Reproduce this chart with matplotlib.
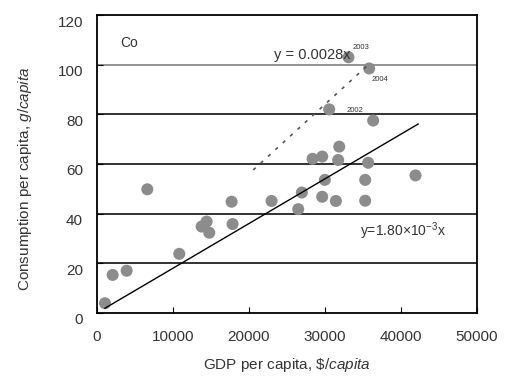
import matplotlib
matplotlib.use("Agg")
import matplotlib.pyplot as plt
import matplotlib.transforms as mtransforms
import numpy as np

plt.rcParams['font.family'] = ['Liberation Sans', 'DejaVu Sans']
plt.rcParams['mathtext.fontset'] = 'custom'
plt.rcParams['mathtext.rm'] = 'Liberation Sans'
plt.rcParams['mathtext.it'] = 'Liberation Sans:italic'

gdp = [1050, 2060, 3900, 6620, 10830, 13770, 14430, 14780, 17720, 17850,
       22980, 26490, 26970, 28380, 29650, 30000, 29650, 31450, 31890, 31750,
       30570, 33110, 35830, 36360, 35700, 35310, 35310, 41930]
cons = [3.9, 15.3, 17.0, 49.8, 23.8, 34.8, 36.8, 32.3, 44.8, 35.8,
        45.1, 41.8, 48.5, 62.1, 63.0, 53.6, 46.8, 45.1, 67.0, 61.6,
        82.0, 103.0, 98.5, 77.5, 60.5, 53.6, 45.2, 55.4]
slope_fit = 1.80e-3
slope_recent = 0.0028
fit_range = [1050, 42280]
recent_range = [20570, 35700]
xticks = [0, 10000, 20000, 30000, 40000, 50000]
yticks = [0, 20, 40, 60, 80, 100, 120]

fig = plt.figure(figsize=(5.16, 3.77), dpi=100)
ax = fig.add_axes([0.188, 0.170, 0.736, 0.790])

for yv in yticks[1:-1]:
    ax.axhline(yv, color="#8a8a8a" if yv == 100 else "#222222", lw=1.3, zorder=1)

ax.scatter(gdp, cons, s=75, color="#8c8c8c", zorder=3, edgecolors="none")

fx = np.array(fit_range)
ax.plot(fx, slope_fit * fx, color="black", lw=1.0, zorder=4)
rx = np.array(recent_range)
ax.plot(rx, slope_recent * rx, color="#555555", lw=1.2, linestyle=(0, (2, 4)), zorder=4)

ax.text(3000, 107, "Co", fontsize=10, color="#333333")
ax.text(23300, 102.5, "y = 0.0028x", fontsize=10.5, color="#333333")
ax.text(32800, 81, "2002", fontsize=5.5, color="#333333")
ax.text(33700, 106.5, "2003", fontsize=5.5, color="#333333")
ax.text(36200, 93.5, "2004", fontsize=5.5, color="#333333")
ax.text(34600, 31, r"y=1.80$\times$10$^{-3}$x", fontsize=10, color="#333333")

ax.set_xlim(0, 50000)
ax.set_ylim(0, 120)
ax.set_xticks(xticks)
ax.set_yticks(yticks)
ax.tick_params(direction="in", labelsize=11, colors="black", labelcolor="#333333", length=4)
ax.tick_params(axis="x", pad=12)
ax.tick_params(axis="y", pad=10)
offset = mtransforms.ScaledTranslation(0, -6 / 100, fig.dpi_scale_trans)
for lbl in ax.get_yticklabels():
    lbl.set_transform(lbl.get_transform() + offset)
for sp in ax.spines.values():
    sp.set_linewidth(1.3)

ax.set_xlabel("GDP per capita, $\\it{\\$/capita}$", fontsize=11, color="#333333", labelpad=9)
ax.set_ylabel("Consumption per capita, $\\it{g/capita}$", fontsize=11, color="#333333")
ax.yaxis.set_label_coords(-0.165, 0.45)

fig.savefig("out.png", dpi=100)
